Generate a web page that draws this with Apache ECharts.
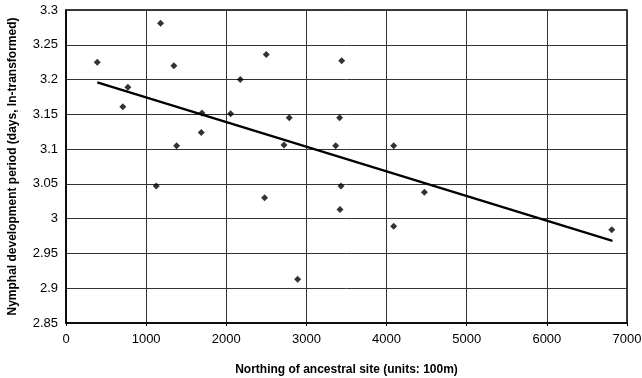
<!DOCTYPE html>
<html>
<head>
<meta charset="utf-8">
<script src="https://cdn.jsdelivr.net/npm/echarts@6/dist/echarts.min.js"></script>
<style>
    html, body { margin: 0; padding: 0; background: #fff; }
    #chart { width: 642px; height: 378px; }
</style>
</head>
<body>
<div id="chart"></div>
<script>
// northing of ancestral site (units: 100m)
let northing = [390, 1180, 1346, 772, 709, 1696, 1688, 1380, 1126,
    2499, 3440, 2174, 2054, 2786, 3414, 2720, 3365, 4089, 3431,
    2478, 3419, 4089, 2890, 4472, 6810];
// nymphal development period (days, ln-transformed)
let period = [3.225, 3.281, 3.220, 3.189, 3.161, 3.152, 3.124, 3.105, 3.047,
    3.236, 3.227, 3.200, 3.151, 3.145, 3.145, 3.106, 3.105, 3.105, 3.047,
    3.030, 3.013, 2.989, 2.913, 3.038, 2.984];
// fitted trend line end points
let trendX = [390, 6819];
let trendY = [3.196, 2.968];

let points = northing.map((x, i) => [x, period[i]]);
let trend = trendX.map((x, i) => [x, trendY[i]]);

let chart = echarts.init(document.getElementById('chart'));

let option = {
    animation: false,
    textStyle: { fontFamily: 'Liberation Sans, Arial, sans-serif' },
    grid: {
        left: 66,
        top: 10,
        right: 15,
        bottom: 55,
        outerBoundsMode: 'none',
        containLabel: false
    },
    xAxis: {
        type: 'value',
        min: 0,
        max: 7000,
        interval: 1000,
        name: 'Northing of ancestral site (units: 100m)',
        nameLocation: 'middle',
        nameGap: 41,
        nameTextStyle: { color: '#000', fontSize: 12, fontWeight: 'bold' },
        axisLine: { show: true, lineStyle: { color: '#000', width: 1.5 } },
        axisTick: { show: true, length: 3, lineStyle: { color: '#000' } },
        axisLabel: { color: '#000', fontSize: 13, margin: 10, formatter: v => String(v) },
        splitLine: { show: true, lineStyle: { color: '#333', width: 1 } }
    },
    yAxis: {
        type: 'value',
        min: 2.85,
        max: 3.3,
        interval: 0.05,
        name: 'Nymphal development period (days, ln-transformed)',
        nameLocation: 'middle',
        nameGap: 47,
        nameTextStyle: { color: '#000', fontSize: 12, fontWeight: 'bold' },
        axisLine: { show: true, lineStyle: { color: '#000', width: 1.5 } },
        axisTick: { show: false },
        axisLabel: {
            color: '#000',
            fontSize: 13,
            margin: 8,
            formatter: v => String(+v.toFixed(2))
        },
        splitLine: { show: true, lineStyle: { color: '#333', width: 1 } }
    },
    series: [
        {
            name: 'data',
            type: 'scatter',
            symbol: 'diamond',
            symbolSize: 7,
            itemStyle: { color: '#000' },
            data: points
        },
        {
            name: 'trend',
            type: 'line',
            symbol: 'none',
            lineStyle: { color: '#000', width: 2.2 },
            data: trend
        }
    ],
    graphic: [
        // top and right frame of the plot area
        {
            type: 'rect',
            shape: { x: 66, y: 10, width: 561, height: 313 },
            style: { fill: 'none', stroke: '#000', lineWidth: 1.5 },
            silent: true
        }
    ]
};

chart.setOption(option);
</script>
</body>
</html>
